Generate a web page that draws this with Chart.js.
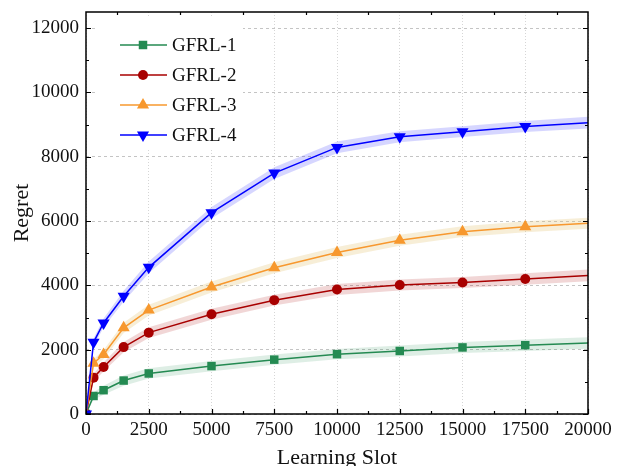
<!DOCTYPE html>
<html>
<head>
<meta charset="utf-8">
<script src="https://cdn.jsdelivr.net/npm/chart.js@4.4.1/dist/chart.umd.min.js"></script>
<style>
  html, body { margin: 0; padding: 0; background: #fff; overflow: hidden; }
  #wrap { position: relative; width: 633px; height: 480px; }
</style>
</head>
<body>
<div id="wrap"><canvas id="mycanvas"></canvas></div>
<script>
// learning slots (x) and regret values
var slots = [0, 300, 700, 1500, 2500, 5000, 7500, 10000, 12500, 15000, 17500, 20000];
var gfrl1 = [0, 560, 740, 1040, 1260, 1490, 1690, 1860, 1960, 2070, 2140, 2210];
var gfrl2 = [0, 1130, 1460, 2080, 2530, 3100, 3540, 3870, 4010, 4090, 4200, 4310];
var gfrl3 = [0, 1580, 1850, 2680, 3230, 3950, 4550, 5020, 5400, 5670, 5820, 5930];
var gfrl4 = [0, 2230, 2830, 3660, 4560, 6260, 7490, 8290, 8620, 8780, 8940, 9060];

// half width of the shaded bands
var spread1 = [0, 120, 140, 160, 160, 160, 160, 160, 170, 170, 180, 180];
var spread2 = [0, 120, 140, 160, 170, 170, 170, 170, 170, 170, 180, 180];
var spread3 = [0, 120, 140, 160, 170, 170, 170, 170, 170, 170, 170, 170];
var spread4 = [0, 120, 140, 170, 180, 180, 180, 180, 170, 170, 170, 180];

var names = ['GFRL-1', 'GFRL-2', 'GFRL-3', 'GFRL-4'];
var lineColors = ['#248a52', '#a80000', '#f7982e', '#0000ff'];
var bandColors = ['rgba(36,138,82,0.15)', 'rgba(168,0,0,0.16)', 'rgba(225,195,110,0.28)', 'rgba(0,0,255,0.16)'];
var markers = ['rect', 'circle', 'triangle', 'triangle'];
var markerSize = [6, 5, 7, 7];
var markerRot = [0, 0, 0, 180];

var yTicks = [0, 2000, 4000, 6000, 8000, 10000, 12000];

var series = [gfrl1, gfrl2, gfrl3, gfrl4];
var spreads = [spread1, spread2, spread3, spread4];

function pts(vals, sp, sign) {
  return slots.map(function (x, i) {
    return { x: x, y: vals[i] + sign * sp[i] };
  });
}

var datasets = [];
for (var i = 0; i < 4; i++) {
  datasets.push({
    label: names[i] + ' lo',
    data: pts(series[i], spreads[i], -1),
    borderWidth: 0, pointRadius: 0, fill: false, order: 20
  });
  datasets.push({
    label: names[i] + ' hi',
    data: pts(series[i], spreads[i], 1),
    borderWidth: 0, pointRadius: 0, backgroundColor: bandColors[i],
    fill: '-1', order: 20
  });
}
for (var j = 0; j < 4; j++) {
  (function (k) {
    datasets.push({
      label: names[k],
      data: pts(series[k], spreads[k], 0),
      borderColor: lineColors[k],
      backgroundColor: lineColors[k],
      borderWidth: 1.5,
      tension: 0,
      fill: false,
      pointStyle: markers[k],
      pointRotation: markerRot[k],
      pointRadius: function (c) { return c.dataIndex === slots.length - 1 ? 0 : markerSize[k]; },
      pointBorderWidth: 0,
      order: 4 - k
    });
  })(j);
}

function drawMarker(c, style, x, y, r, rot) {
  c.beginPath();
  if (style === 'rect') {
    var s = r * Math.SQRT1_2;
    c.rect(x - s, y - s, 2 * s, 2 * s);
  } else if (style === 'circle') {
    c.arc(x, y, r, 0, Math.PI * 2);
  } else {
    var a = rot * Math.PI / 180;
    for (var n = 0; n < 3; n++) {
      var t = a + n * 2 * Math.PI / 3;
      var px = x + Math.sin(t) * r, py = y - Math.cos(t) * r;
      if (n === 0) c.moveTo(px, py); else c.lineTo(px, py);
    }
    c.closePath();
  }
  c.fill();
}

var legendBox = {
  id: 'legendBox',
  afterDatasetsDraw: function (chart) {
    var c = chart.ctx;
    c.save();
    c.fillStyle = '#fff';
    c.fillRect(96, 18, 147, 132);
    for (var i = 0; i < 4; i++) {
      var y = 45 + i * 30;
      c.strokeStyle = lineColors[i];
      c.globalAlpha = 0.75;
      c.lineWidth = 1.8;
      c.beginPath(); c.moveTo(120, y); c.lineTo(167, y); c.stroke();
      c.globalAlpha = 1;
      c.fillStyle = lineColors[i];
      drawMarker(c, markers[i], 143, y, markerSize[i], markerRot[i]);
      c.fillStyle = '#111';
      c.font = '19px "Liberation Serif", serif';
      c.textBaseline = 'middle';
      c.fillText(names[i], 172, y + 1);
    }
    c.restore();
  }
};

var frameTicks = {
  id: 'frameTicks',
  afterDraw: function (chart) {
    var c = chart.ctx, a = chart.chartArea, xs = chart.scales.x, ys = chart.scales.y;
    c.save();
    c.strokeStyle = '#000';
    c.lineWidth = 1.2;
    c.beginPath();
    for (var v = 0; v <= 20000; v += 1250) {
      var px = Math.round(xs.getPixelForValue(v)) + 0.5;
      var major = v % 2500 === 0;
      var len = major ? 5 : 3;
      c.moveTo(px, a.bottom); c.lineTo(px, a.bottom - len);
      if (!major) { c.moveTo(px, a.top); c.lineTo(px, a.top + len); }
    }
    for (var w = 0; w <= 12000; w += 1000) {
      var py = Math.round(ys.getPixelForValue(w)) + 0.5;
      var l = w % 2000 === 0 ? 5 : 3;
      c.moveTo(a.left, py); c.lineTo(a.left + l, py);
      c.moveTo(a.right, py); c.lineTo(a.right - l, py);
    }
    c.stroke();
    c.lineWidth = 1.5;
    c.strokeRect(a.left, a.top, a.right - a.left, a.bottom - a.top);
    c.restore();
  }
};

var serif = '"Liberation Serif", "Times New Roman", serif';
function plain(v) { return String(v); }

var ctx = document.getElementById('mycanvas');
var chart = new Chart(ctx, {
  type: 'line',
  data: { datasets: datasets },
  plugins: [legendBox, frameTicks],
  options: {
    responsive: true,
    maintainAspectRatio: false,
    animation: false,
    layout: { padding: { top: 12, right: 45, left: 0, bottom: 0 } },
    plugins: { legend: { display: false }, tooltip: { enabled: false } },
    scales: {
      x: {
        type: 'linear', min: 0, max: 20000,
        afterFit: function (s) { s.height = 66; s.paddingLeft = 0; s.paddingRight = 0; },
        ticks: { stepSize: 2500, color: '#111', padding: 5, maxRotation: 0,
          callback: plain, font: { family: serif, size: 19 } },
        grid: { color: '#d6d6d6', lineWidth: 1, drawTicks: false },
        border: { display: false, dash: [1, 2] },
        title: { display: true, text: 'Learning Slot', color: '#111',
          font: { family: serif, size: 22 }, padding: { top: 0, bottom: 9 } }
      },
      y: {
        type: 'linear', min: 0, max: 12500,
        afterFit: function (s) { s.width = 86; s.paddingTop = 0; s.paddingBottom = 0; },
        afterBuildTicks: function (s) {
          s.ticks = yTicks.map(function (v) { return { value: v }; });
        },
        ticks: { color: '#111', padding: 7, callback: plain,
          font: { family: serif, size: 19 } },
        grid: { color: '#c4c4c4', lineWidth: 1, drawTicks: false },
        border: { display: false, dash: [3, 3] },
        title: { display: true, text: 'Regret', color: '#111',
          font: { family: serif, size: 22 }, padding: { top: 9, bottom: 0 } }
      }
    }
  }
});
</script>
</body>
</html>
